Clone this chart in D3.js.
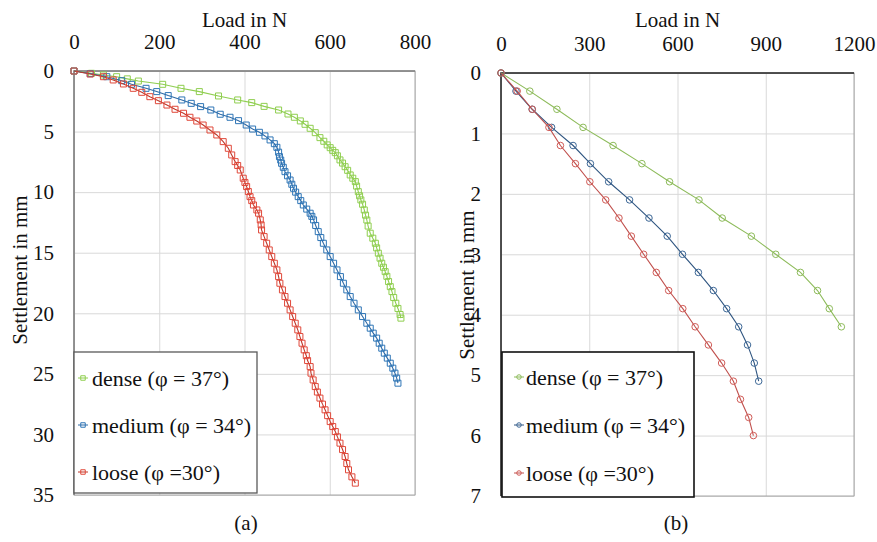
<!DOCTYPE html>
<html>
<head>
<meta charset="utf-8">
<script src="https://cdn.jsdelivr.net/npm/d3@7"></script>
<style>
  body { margin: 0; background: #fff; }
  .grid line { stroke: #d9d9d9; stroke-width: 1; }
  .grid path { display: none; }
  .tick text { fill: #111; }
</style>
</head>
<body>
<div id="chart"></div>
<script>
// ---- panel (a) data: load in N, settlement in mm ----
var denseLoadA = [0, 41, 69, 100, 125, 151, 208, 251, 294, 339, 384, 417, 446, 480, 502, 517, 531, 542, 554, 566,
  577, 586, 594, 601, 607, 613, 618, 624, 630, 636, 642, 648, 654, 660, 663, 667, 670, 673, 677, 681,
  684, 687, 690, 695, 701, 707, 710, 714, 718, 722, 726, 730, 734, 738, 742, 746, 750, 755, 760, 765, 767];
var denseSetA = [0, 0.19, 0.33, 0.47, 0.65, 0.83, 1.1, 1.43, 1.7, 2.06, 2.39, 2.61, 2.92, 3.22, 3.55, 3.82, 4.12, 4.4, 4.73, 5.09,
  5.5, 5.8, 6.1, 6.33, 6.55, 6.74, 7.0, 7.34, 7.6, 7.9, 8.2, 8.58, 8.85, 9.13, 9.5, 9.96, 10.3, 10.64, 11.0, 11.47,
  11.9, 12.3, 12.8, 13.39, 13.8, 14.22, 14.6, 15.04, 15.45, 15.87, 16.2, 16.56, 16.95, 17.38, 17.8, 18.21, 18.7, 19.17, 19.6, 20.1, 20.4];

var mediumLoadA = [0, 38, 77, 112, 135, 169, 194, 221, 253, 275, 297, 321, 343, 366, 386, 404, 419, 435, 448, 460,
  470, 476, 480, 482, 485, 487, 491, 495, 501, 507, 511, 515, 520, 526, 532, 538, 546, 554, 558, 562,
  567, 573, 579, 585, 593, 601, 609, 617, 625, 632, 640, 648, 657, 667, 677, 687, 695, 702, 710, 716,
  722, 728, 735, 742, 748, 753, 757, 760];
var mediumSetA = [0, 0.22, 0.47, 0.8, 1.1, 1.43, 1.7, 2.03, 2.39, 2.67, 2.94, 3.22, 3.57, 3.82, 4.1, 4.46, 4.79, 5.06, 5.36, 5.69,
  6.0, 6.3, 6.7, 7.07, 7.35, 7.62, 7.95, 8.31, 8.65, 9.0, 9.35, 9.68, 10.0, 10.37, 10.7, 11.06, 11.4, 11.74, 12.0, 12.29,
  12.75, 13.26, 13.75, 14.22, 14.77, 15.32, 15.87, 16.42, 16.97, 17.52, 18.07, 18.62, 19.17, 19.72, 20.27, 20.82, 21.23, 21.64, 22.05, 22.47,
  22.88, 23.29, 23.7, 24.12, 24.53, 24.94, 25.35, 25.77];

var looseLoadA = [0, 38, 69, 92, 116, 139, 159, 178, 198, 218, 237, 257, 272, 288, 303, 319, 335, 350, 362, 370,
  378, 384, 390, 397, 401, 405, 409, 413, 417, 421, 429, 433, 437, 439, 440, 446, 452, 458, 464, 470,
  476, 480, 483, 489, 495, 501, 507, 513, 519, 525, 530, 535, 540, 545, 548, 554, 556, 561, 566, 571,
  577, 583, 589, 595, 601, 607, 613, 618, 624, 630, 636, 640, 644, 652, 660];
var looseSetA = [0, 0.25, 0.47, 0.74, 1.07, 1.43, 1.76, 2.12, 2.45, 2.81, 3.16, 3.49, 3.82, 4.13, 4.46, 4.87, 5.28, 5.83, 6.38, 6.93,
  7.48, 7.8, 8.17, 8.85, 9.2, 9.54, 9.95, 10.37, 10.7, 11.06, 11.47, 11.74, 12.29, 12.7, 13.12, 13.67, 14.22, 14.77, 15.32, 15.87,
  16.42, 16.97, 17.52, 18.07, 18.62, 19.17, 19.72, 20.27, 20.82, 21.37, 21.92, 22.47, 23.02, 23.5, 23.9, 24.4, 24.94, 25.5, 26.05, 26.5,
  27.0, 27.5, 27.97, 28.45, 28.94, 29.35, 29.76, 30.2, 30.72, 31.25, 31.82, 32.4, 32.92, 33.5, 34.02];

// ---- panel (b) data ----
var denseLoadB = [0, 98, 190, 279, 381, 479, 573, 673, 752, 851, 934, 1018, 1076, 1116, 1157];
var denseSetB = [0, 0.3, 0.6, 0.9, 1.2, 1.5, 1.8, 2.1, 2.4, 2.7, 3.0, 3.3, 3.6, 3.9, 4.2];
var mediumLoadB = [0, 51, 106, 172, 245, 304, 366, 437, 503, 565, 617, 671, 722, 767, 808, 838, 861, 876];
var mediumSetB = [0, 0.3, 0.6, 0.9, 1.2, 1.5, 1.8, 2.1, 2.4, 2.7, 3.0, 3.3, 3.6, 3.9, 4.2, 4.5, 4.8, 5.1];
var looseLoadB = [0, 55, 106, 163, 202, 253, 302, 356, 401, 443, 485, 528, 570, 618, 660, 705, 750, 790, 814, 842, 858];
var looseSetB = [0, 0.3, 0.6, 0.9, 1.2, 1.5, 1.8, 2.1, 2.4, 2.7, 3.0, 3.3, 3.6, 3.9, 4.2, 4.5, 4.8, 5.1, 5.4, 5.7, 6.0];

var xTicksA = [0, 200, 400, 600, 800];
var yTicksA = [0, 5, 10, 15, 20, 25, 30, 35];
var xTicksB = [0, 300, 600, 900, 1200];
var yTicksB = [0, 1, 2, 3, 4, 5, 6, 7];

var seriesNames = ["dense (φ = 37°)", "medium (φ = 34°)", "loose (φ =30°)"];

var FONT = "'Liberation Serif', Tinos, 'Times New Roman', Times, 'DejaVu Serif', serif";

var svg = d3.select("#chart").append("svg")
  .attr("width", 877)
  .attr("height", 542);

var zip = (xs, ys) => xs.map((v, i) => [v, ys[i]]);

function panel(opt) {
  var x = d3.scaleLinear().domain(opt.xDomain).range([opt.left, opt.right]);
  var y = d3.scaleLinear().domain(opt.yDomain).range([opt.top, opt.bottom]);
  var g = svg.append("g");

  // grid
  g.append("g").attr("class", "grid")
    .attr("transform", "translate(0," + opt.top + ")")
    .call(d3.axisTop(x).tickValues(opt.xTicks).tickSize(opt.top - opt.bottom).tickFormat(""));
  g.append("g").attr("class", "grid")
    .attr("transform", "translate(" + opt.left + ",0)")
    .call(d3.axisLeft(y).tickValues(opt.yTicks).tickSize(opt.left - opt.right).tickFormat(""));

  // frame
  g.append("rect")
    .attr("x", opt.left).attr("y", opt.top)
    .attr("width", opt.right - opt.left).attr("height", opt.bottom - opt.top)
    .attr("fill", "none").attr("stroke", opt.frame).attr("stroke-width", 1);
  g.append("path")
    .attr("d", "M" + opt.left + "," + opt.bottom + "V" + opt.top + "H" + opt.right)
    .attr("fill", "none").attr("stroke", opt.axisColor).attr("stroke-width", 1.5);

  // tick labels
  var xa = g.append("g")
    .attr("transform", "translate(0," + (opt.top - 19) + ")")
    .call(d3.axisTop(x).tickValues(opt.xTicks).tickSize(0).tickFormat(d3.format("d")));
  xa.select(".domain").remove();
  xa.selectAll("text").style("font-family", FONT).style("font-size", "21px");

  var ya = g.append("g")
    .attr("transform", "translate(" + (opt.left - opt.yTickGap) + ",0)")
    .call(d3.axisLeft(y).tickValues(opt.yTicks).tickSize(0).tickFormat(d3.format("d")));
  ya.select(".domain").remove();
  ya.selectAll("text").style("font-family", FONT).style("font-size", "21px");

  g.append("text")
    .attr("x", (opt.left + opt.right) / 2).attr("y", 27)
    .attr("text-anchor", "middle").attr("fill", "#111")
    .style("font-family", FONT).style("font-size", "21px")
    .text("Load in N");
  g.append("text")
    .attr("transform", "translate(" + opt.yTitleX + "," + opt.yTitleY + ") rotate(-90)")
    .attr("text-anchor", "middle").attr("fill", "#111")
    .style("font-family", FONT).style("font-size", "21px")
    .text("Settlement in mm");
  g.append("text")
    .attr("x", opt.tagX).attr("y", 530)
    .attr("text-anchor", "middle").attr("fill", "#111")
    .style("font-family", FONT).style("font-size", "21px")
    .text(opt.tag);

  var line = d3.line().x(d => x(d[0])).y(d => y(d[1]));

  opt.series.forEach(function (s) {
    g.append("path")
      .datum(s.data)
      .attr("d", line)
      .attr("fill", "none")
      .attr("stroke", s.line)
      .attr("stroke-width", 1.1);
    g.selectAll(null)
      .data(s.data)
      .enter()
      .append("path")
      .attr("transform", d => "translate(" + x(d[0]) + "," + y(d[1]) + ")")
      .attr("d", opt.marker)
      .attr("fill", "none")
      .attr("stroke", s.color)
      .attr("stroke-width", 1);
  });

  // legend
  var L = opt.legend;
  g.append("rect")
    .attr("x", L.x).attr("y", L.y).attr("width", L.w).attr("height", L.h)
    .attr("fill", "#fff").attr("stroke", L.stroke).attr("stroke-width", L.sw);
  opt.series.forEach(function (s, i) {
    var cy = L.rows[i];
    g.append("line")
      .attr("x1", L.mx - 5).attr("x2", L.mx + 5).attr("y1", cy).attr("y2", cy)
      .attr("stroke", s.line).attr("stroke-width", 1);
    g.append("path")
      .attr("transform", "translate(" + L.mx + "," + cy + ")")
      .attr("d", opt.legendMarker)
      .attr("fill", "none").attr("stroke", s.color).attr("stroke-width", 1);
    g.append("text")
      .attr("x", L.tx).attr("y", cy)
      .attr("dominant-baseline", "central")
      .attr("fill", "#111")
      .style("font-family", FONT).style("font-size", "22px")
      .text(seriesNames[i]);
  });
}

panel({
  left: 74, right: 415, top: 71, bottom: 495,
  xDomain: [0, 800], yDomain: [0, 35],
  xTicks: xTicksA, yTicks: yTicksA, yTickGap: 17,
  frame: "#a6a6a6", axisColor: "#7f7f7f",
  yTitleX: 27, yTitleY: 270, tagX: 246, tag: "(a)",
  marker: d3.symbol(d3.symbolSquare, 36)(),
  legendMarker: d3.symbol(d3.symbolSquare, 20)(),
  series: [
    { data: zip(denseLoadA, denseSetA), color: "#8fce4f", line: "#8fce4f" },
    { data: zip(mediumLoadA, mediumSetA), color: "#2e75b6", line: "#2e6aa6" },
    { data: zip(looseLoadA, looseSetA), color: "#e0483a", line: "#c0392b" }
  ],
  legend: { x: 74, y: 352, w: 183, h: 141, stroke: "#595959", sw: 1.3, mx: 83, tx: 92, rows: [378, 425, 472] }
});

panel({
  left: 501, right: 854, top: 73, bottom: 496,
  xDomain: [0, 1200], yDomain: [0, 7],
  xTicks: xTicksB, yTicks: yTicksB, yTickGap: 17,
  frame: "#a6a6a6", axisColor: "#262626",
  yTitleX: 474, yTitleY: 285, tagX: 676, tag: "(b)",
  marker: d3.symbol(d3.symbolCircle, 34)(),
  legendMarker: d3.symbol(d3.symbolCircle, 16)(),
  series: [
    { data: zip(denseLoadB, denseSetB), color: "#8dbb5a", line: "#8dbb5a" },
    { data: zip(mediumLoadB, mediumSetB), color: "#3c6796", line: "#2f5580" },
    { data: zip(looseLoadB, looseSetB), color: "#d05a55", line: "#c0504d" }
  ],
  legend: { x: 502, y: 352, w: 192, h: 145, stroke: "#111", sw: 1.6, mx: 519, tx: 526, rows: [377, 425, 473] }
});
</script>
</body>
</html>
